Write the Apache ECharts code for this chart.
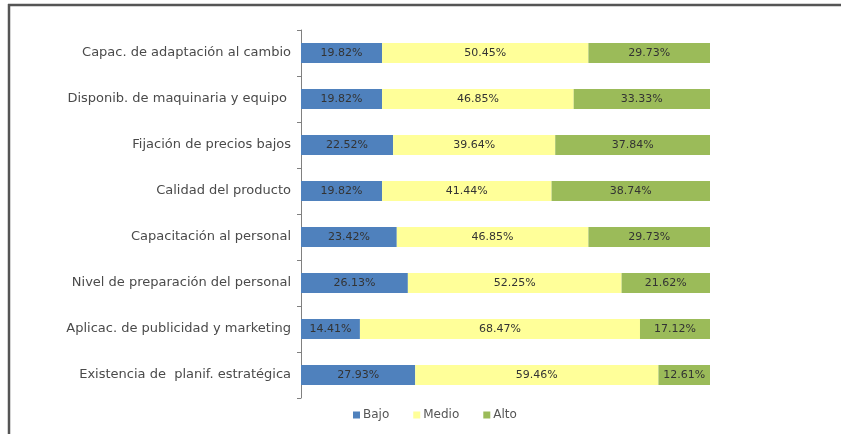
<!DOCTYPE html>
<html>
<head>
<meta charset="utf-8">
<script src="https://cdn.jsdelivr.net/npm/echarts@6/dist/echarts.min.js"></script>
<style>
html,body{margin:0;padding:0;background:#fff;}
#c{width:841px;height:434px;}
</style>
</head>
<body>
<div id="c"></div>
<script>
var categories = [
  "Capac. de adaptación al cambio",
  "Disponib. de maquinaria y equipo ",
  "Fijación de precios bajos",
  "Calidad del producto",
  "Capacitación al personal",
  "Nivel de preparación del personal",
  "Aplicac. de publicidad y marketing",
  "Existencia de  planif. estratégica"
];
var seriesNames = ["Bajo", "Medio", "Alto"];
var bajo  = [19.82, 19.82, 22.52, 19.82, 23.42, 26.13, 14.41, 27.93];
var medio = [50.45, 46.85, 39.64, 41.44, 46.85, 52.25, 68.47, 59.46];
var alto  = [29.73, 33.33, 37.84, 38.74, 29.73, 21.62, 17.12, 12.61];

var colors = ["#4F81BD", "#FFFF99", "#9BBB59"];
var font = "DejaVu Sans";

var chart = echarts.init(document.getElementById('c'), null, {renderer: 'canvas'});

function mkSeries(name, data, color) {
  return {
    name: name,
    type: 'bar',
    stack: 'total',
    barWidth: 20,
    data: data,
    itemStyle: {color: color},
    label: {
      show: true,
      position: 'inside',
      formatter: function (p) { return p.value.toFixed(2) + '%'; },
      color: '#333',
      fontFamily: font,
      fontSize: 11
    },
    emphasis: {disabled: true},
    animation: false
  };
}

chart.setOption({
  animation: false,
  textStyle: {fontFamily: font},
  graphic: [
    {type: 'line', shape: {x1: 8, y1: 5, x2: 841, y2: 5}, style: {stroke: '#555', lineWidth: 2.5}},
    {type: 'line', shape: {x1: 9, y1: 4, x2: 9, y2: 434}, style: {stroke: '#555', lineWidth: 2.5}}
  ],
  grid: {left: 301, top: 30, width: 409, height: 368, containLabel: false},
  legend: {
    data: seriesNames,
    left: 348,
    top: 404,
    itemWidth: 7,
    itemHeight: 7,
    itemGap: 24,
    icon: 'rect',
    textStyle: {fontFamily: font, fontSize: 12, color: '#555', padding: [0, 0, 0, -2]}
  },
  xAxis: {
    type: 'value', min: 0, max: 100, show: false
  },
  yAxis: {
    type: 'category',
    inverse: true,
    data: categories,
    axisLine: {show: true, lineStyle: {color: '#808080', width: 1}},
    axisTick: {show: true, length: 4, lineStyle: {color: '#808080'}},
    axisLabel: {fontFamily: font, fontSize: 13, color: '#4a4a4a', margin: 10}
  },
  series: [
    mkSeries(seriesNames[0], bajo, colors[0]),
    mkSeries(seriesNames[1], medio, colors[1]),
    mkSeries(seriesNames[2], alto, colors[2])
  ]
});
</script>
</body>
</html>
